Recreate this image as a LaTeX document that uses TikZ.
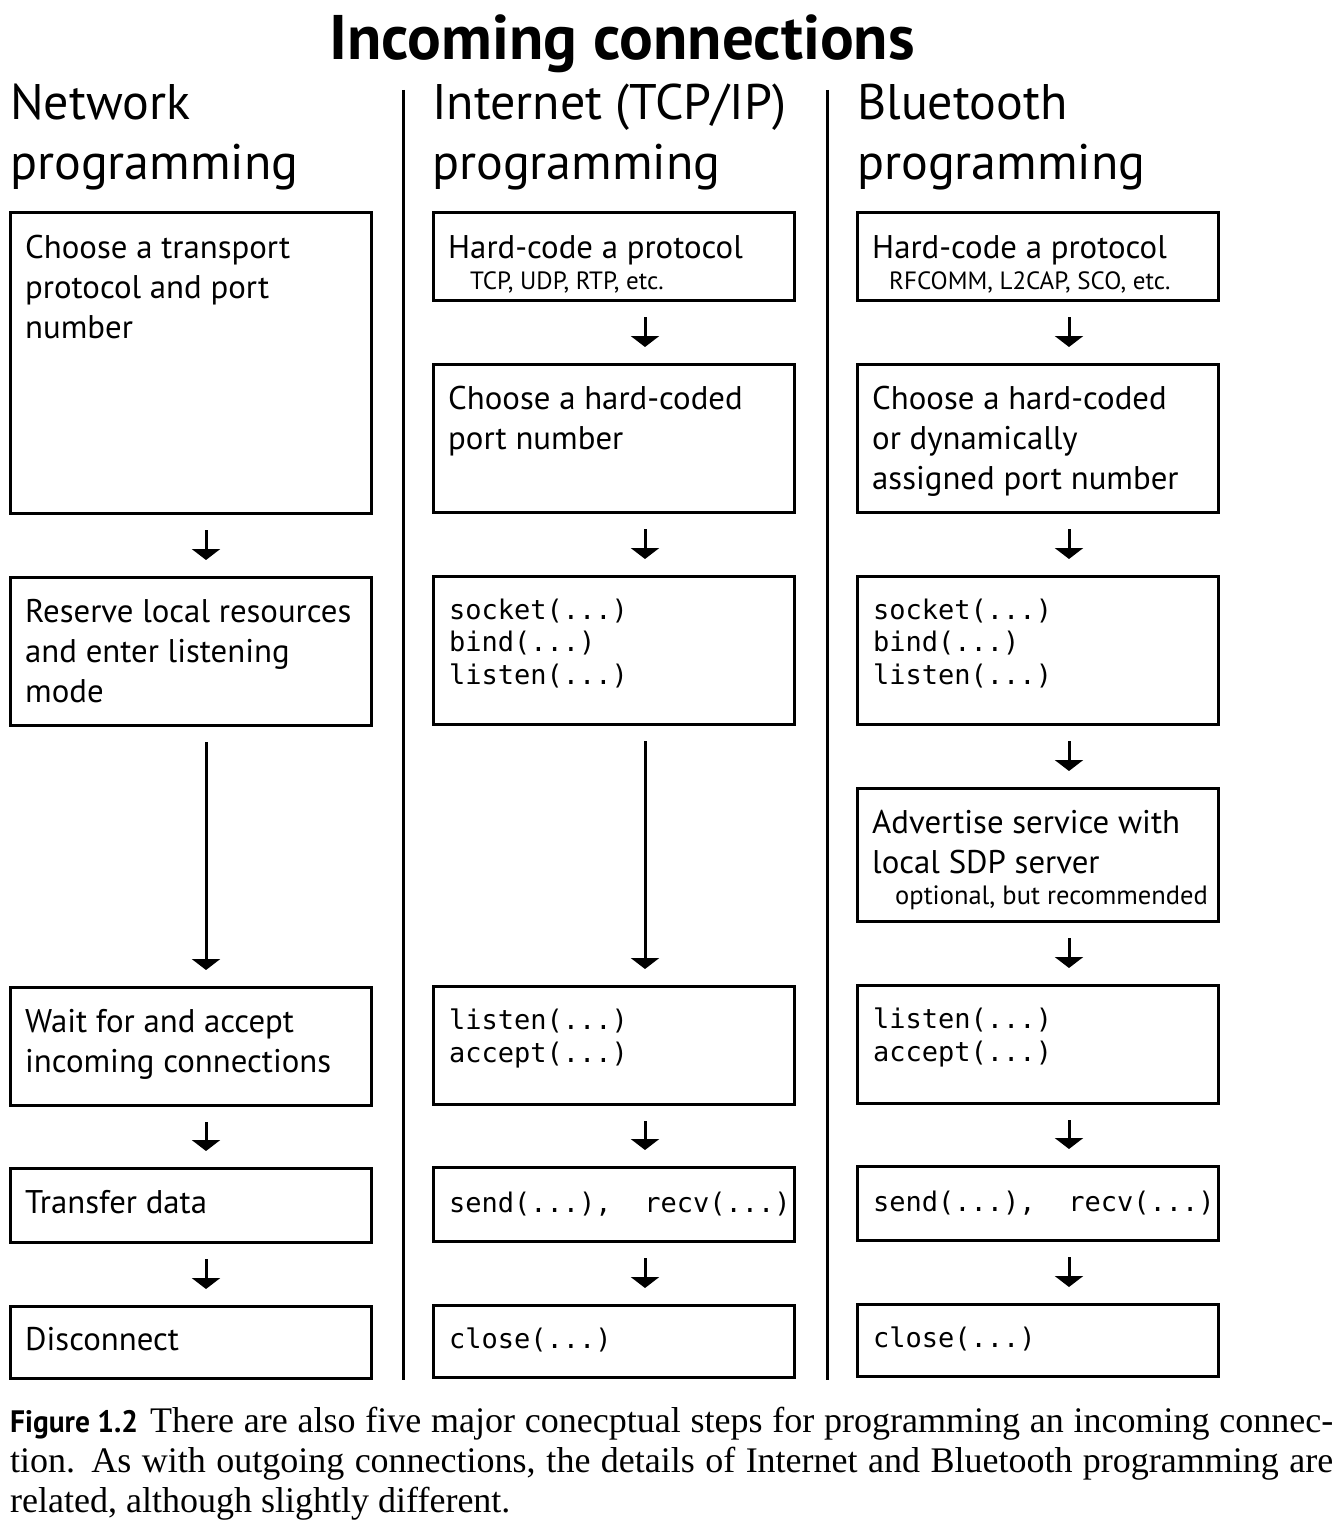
\documentclass[tikz,border=0pt]{standalone}
\usepackage{fontspec}
\setmainfont{PT Sans}
\newfontfamily\codefont{DejaVu Sans Mono}
\newfontfamily\capfont{Liberation Serif}
\usetikzlibrary{arrows.meta,positioning}

\begin{document}
\begin{tikzpicture}[x=1pt, y=-1pt, node distance=61pt,
    stepbox/.style={draw, line width=3pt, anchor=north west, minimum width=361pt, inner sep=0pt},
    steptext/.style={anchor=base west, align=left, inner sep=0pt, font=\fontsize{32.8}{40}\selectfont},
    subtext/.style={anchor=base west, inner sep=0pt, font=\fontsize{25}{28}\selectfont},
    codetext/.style={anchor=base west, align=left, inner sep=0pt, font=\codefont\fontsize{27}{32.5}\selectfont},
    colhead/.style={anchor=base west, align=left, inner sep=0pt, font=\fontsize{50}{60}\selectfont},
    flow/.style={line width=3pt, -{Triangle[width=28pt,length=11pt]}, shorten <=15pt, shorten >=16pt}]

\useasboundingbox (0,0) rectangle (1341,1525);

% title and column heads (base anchor = last line)
\node[anchor=base, inner sep=0pt, font=\bfseries\fontsize{63}{66}\selectfont] (title) at (622,60) {Incoming connections};
\node[colhead] (net-head) at (10,180) {Network\\programming};
\node[colhead] (ip-head) at (432,180) {Internet (TCP/IP)\\programming};
\node[colhead] (bt-head) at (857,180) {Bluetooth\\programming};

\coordinate (sep1-top) at (403,90);
\coordinate (sep1-bot) at (403,1380);
\coordinate (sep2-top) at (827,90);
\coordinate (sep2-bot) at (827,1380);
\draw[line width=3pt] (sep1-top) -- (sep1-bot);
\draw[line width=3pt] (sep2-top) -- (sep2-bot);

% network programming
\node[stepbox, minimum height=301pt] (net-choose) at (9,211) {};
\node[stepbox, minimum height=148pt, below=of net-choose] (net-reserve) {};
\node[stepbox, minimum height=118pt, below=259pt of net-reserve] (net-wait) {};
\node[stepbox, minimum height=74pt, below=60pt of net-wait] (net-xfer) {};
\node[stepbox, minimum height=72pt, below=of net-xfer] (net-close) {};

\node[steptext] at ([shift={(16,127)}]net-choose.north west) {Choose a transport\\protocol and port\\number};
\node[steptext] at ([shift={(16,126)}]net-reserve.north west) {Reserve local resources\\and enter listening\\mode};
\node[steptext] at ([shift={(16,86)}]net-wait.north west) {Wait for and accept\\incoming connections};
\node[steptext] at ([shift={(16,46)}]net-xfer.north west) {Transfer data};
\node[steptext] at ([shift={(16,45)}]net-close.north west) {Disconnect};

\draw[flow] ([xshift=15pt]net-choose.south) -- ([xshift=15pt]net-reserve.north);
\draw[flow] ([xshift=15pt]net-reserve.south) -- ([xshift=15pt]net-wait.north);
\draw[flow] ([xshift=15pt]net-wait.south) -- ([xshift=15pt]net-xfer.north);
\draw[flow] ([xshift=15pt]net-xfer.south) -- ([xshift=15pt]net-close.north);

% internet programming
\node[stepbox, minimum height=88pt] (ip-proto) at (432,211) {};
\node[stepbox, minimum height=148pt, below=of ip-proto] (ip-port) {};
\node[stepbox, minimum height=148pt, below=of ip-port] (ip-sock) {};
\node[stepbox, minimum height=118pt, below=259pt of ip-sock] (ip-accept) {};
\node[stepbox, minimum height=74pt, below=60pt of ip-accept] (ip-xfer) {};
\node[stepbox, minimum height=72pt, below=of ip-xfer] (ip-close) {};

\node[steptext] at ([shift={(16,47)}]ip-proto.north west) {Hard-code a protocol};
\node[subtext] at ([shift={(38,78)}]ip-proto.north west) {TCP, UDP, RTP, etc.};
\node[steptext] at ([shift={(16,86)}]ip-port.north west) {Choose a hard-coded\\port number};
\node[codetext] at ([shift={(17,109)}]ip-sock.north west) {socket(...)\\bind(...)\\listen(...)};
\node[codetext] at ([shift={(17,77)}]ip-accept.north west) {listen(...)\\accept(...)};
\node[codetext] at ([shift={(17,46)}]ip-xfer.north west) {send(...),~~recv(...)};
\node[codetext] at ([shift={(17,44)}]ip-close.north west) {close(...)};

\draw[flow] ([xshift=31pt]ip-proto.south) -- ([xshift=31pt]ip-port.north);
\draw[flow] ([xshift=31pt]ip-port.south) -- ([xshift=31pt]ip-sock.north);
\draw[flow] ([xshift=31pt]ip-sock.south) -- ([xshift=31pt]ip-accept.north);
\draw[flow] ([xshift=31pt]ip-accept.south) -- ([xshift=31pt]ip-xfer.north);
\draw[flow] ([xshift=31pt]ip-xfer.south) -- ([xshift=31pt]ip-close.north);

% bluetooth programming
\node[stepbox, minimum height=88pt] (bt-proto) at (856,211) {};
\node[stepbox, minimum height=148pt, below=of bt-proto] (bt-port) {};
\node[stepbox, minimum height=148pt, below=of bt-port] (bt-sock) {};
\node[stepbox, minimum height=133pt, below=of bt-sock] (bt-sdp) {};
\node[stepbox, minimum height=118pt, below=of bt-sdp] (bt-accept) {};
\node[stepbox, minimum height=74pt, below=60pt of bt-accept] (bt-xfer) {};
\node[stepbox, minimum height=72pt, below=of bt-xfer] (bt-close) {};

\node[steptext] at ([shift={(16,47)}]bt-proto.north west) {Hard-code a protocol};
\node[subtext] at ([shift={(33,78)}]bt-proto.north west) {RFCOMM, L2CAP, SCO, etc.};
\node[steptext] at ([shift={(16,126)}]bt-port.north west) {Choose a hard-coded\\or dynamically\\assigned port number};
\node[codetext] at ([shift={(17,109)}]bt-sock.north west) {socket(...)\\bind(...)\\listen(...)};
\node[steptext] at ([shift={(16,86)}]bt-sdp.north west) {Advertise service with\\local SDP server};
\node[subtext, font=\fontsize{26.5}{28}\selectfont] at ([shift={(39,117)}]bt-sdp.north west) {optional, but recommended};
\node[codetext] at ([shift={(17,77)}]bt-accept.north west) {listen(...)\\accept(...)};
\node[codetext] at ([shift={(17,46)}]bt-xfer.north west) {send(...),~~recv(...)};
\node[codetext] at ([shift={(17,44)}]bt-close.north west) {close(...)};

\draw[flow] ([xshift=31pt]bt-proto.south) -- ([xshift=31pt]bt-port.north);
\draw[flow] ([xshift=31pt]bt-port.south) -- ([xshift=31pt]bt-sock.north);
\draw[flow] ([xshift=31pt]bt-sock.south) -- ([xshift=31pt]bt-sdp.north);
\draw[flow] ([xshift=31pt]bt-sdp.south) -- ([xshift=31pt]bt-accept.north);
\draw[flow] ([xshift=31pt]bt-accept.south) -- ([xshift=31pt]bt-xfer.north);
\draw[flow] ([xshift=31pt]bt-xfer.south) -- ([xshift=31pt]bt-close.north);

% caption
\node[anchor=base west, inner sep=0pt, align=left,
      font=\capfont\fontsize{36}{40}\selectfont] (caption) at (10,1512)
  {\hbox to 1323pt{\scalebox{0.95}[1]{\fontspec{PT Sans}\bfseries\fontsize{31}{40}\selectfont Figure 1.2}\hspace{12pt}There are also five major conecptual steps for programming an incoming connec-}\\
   \hbox to 1323pt{tion. As with outgoing connections, the details of Internet and Bluetooth programming are}\\
   related, although slightly different.};
\end{tikzpicture}
\end{document}
